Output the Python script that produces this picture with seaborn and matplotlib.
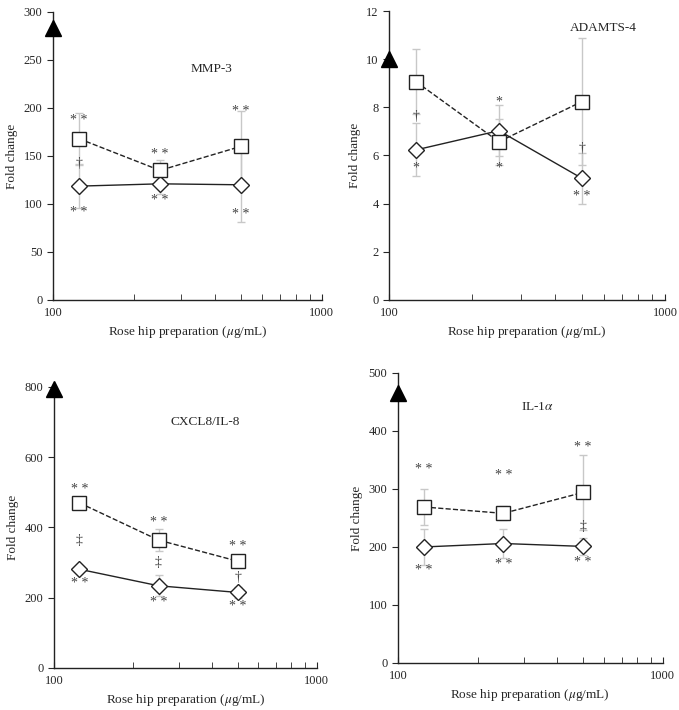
import numpy as np
import matplotlib
matplotlib.use("Agg")
import matplotlib.pyplot as plt
from matplotlib.ticker import NullFormatter, LogLocator
import seaborn as sns

sns.set_style("ticks")
plt.rcParams['font.family'] = ['Liberation Serif', 'DejaVu Serif']
plt.rcParams['mathtext.fontset'] = 'stix'

dose = [125, 250, 500]

# MMP-3
mmp_sq = [168, 135, 160]
mmp_sq_err = [27, 11, 37]
mmp_di = [118.6, 121, 120]
mmp_di_err = [23, 11, 39]
mmp_ctrl = 283

# ADAMTS-4
adam_sq = [9.07, 6.57, 8.24]
adam_sq_err = [1.35, 0.95, 2.65]
adam_di = [6.23, 7.03, 5.05]
adam_di_err = [1.1, 1.05, 1.05]
adam_ctrl = 10.0

# CXCL8/IL-8
cx_sq = [470, 364, 304]
cx_sq_err = [10, 32, 18]
cx_di = [281, 234, 215]
cx_di_err = [10, 30, 15]
cx_ctrl = 795

# IL-1a
il_sq = [269, 258, 294]
il_sq_err = [31, 12, 64]
il_di = [200, 206, 201]
il_di_err = [31, 25, 15]
il_ctrl = 465

# significance marks: (x, y, text)
mmp_marks = [(125, 187, '* *'), (125, 142, '†'), (125, 91, '* *'),
             (250, 152, '* *'), (250, 104, '* *'),
             (500, 196, '* *'), (500, 89, '* *')]
adam_marks = [(125, 7.6, '†'), (125, 5.47, '*'),
              (250, 8.24, '*'), (250, 5.47, '*'),
              (500, 6.27, '†'), (500, 4.29, '* *')]
cx_marks = [(125, 508, '* *'), (125, 363, '‡'), (125, 241, '* *'),
            (250, 414, '* *'), (250, 301, '‡'), (250, 185, '* *'),
            (500, 347, '* *'), (500, 258, '†'), (500, 175, '* *')]
il_marks = [(125, 334, '* *'), (125, 159, '* *'),
            (250, 323, '* *'), (250, 170, '* *'),
            (500, 372, '* *'), (500, 235, '‡'), (500, 173, '* *')]

panels = [
    dict(pos=[0.078, 0.5775, 0.396, 0.4056], sq=mmp_sq, sqe=mmp_sq_err, di=mmp_di, die=mmp_di_err,
         ctrl=mmp_ctrl, marks=mmp_marks, ymax=300, ystep=50, title='MMP-3', tpos=(388, 241)),
    dict(pos=[0.573, 0.5775, 0.4065, 0.407], sq=adam_sq, sqe=adam_sq_err, di=adam_di, die=adam_di_err,
         ctrl=adam_ctrl, marks=adam_marks, ymax=12, ystep=2, title='ADAMTS-4', tpos=(597, 11.28)),
    dict(pos=[0.0795, 0.0592, 0.387, 0.3958], sq=cx_sq, sqe=cx_sq_err, di=cx_di, die=cx_di_err,
         ctrl=cx_ctrl, marks=cx_marks, ymax=800, ystep=200, title='CXCL8/IL-8', tpos=(377, 700)),
    dict(pos=[0.586, 0.0662, 0.390, 0.4085], sq=il_sq, sqe=il_sq_err, di=il_di, die=il_di_err,
         ctrl=il_ctrl, marks=il_marks, ymax=500, ystep=100, title=r'IL-1$\alpha$', tpos=(335, 442)),
]

fig = plt.figure(figsize=(6.79, 7.10), dpi=100)
grey = '#c8c8c8'

for p in panels:
    ax = fig.add_axes(p['pos'])
    ax.errorbar(dose, p['sq'], yerr=p['sqe'], fmt='none', ecolor=grey, elinewidth=1, capsize=3, zorder=1)
    ax.errorbar(dose, p['di'], yerr=p['die'], fmt='none', ecolor=grey, elinewidth=1, capsize=3, zorder=1)
    sns.lineplot(x=dose, y=p['di'], ax=ax, color='#222222', linewidth=1, marker='D', markersize=8,
                 markerfacecolor='white', markeredgecolor='#222222', markeredgewidth=1, zorder=3)
    sns.lineplot(x=dose, y=p['sq'], ax=ax, color='#222222', linewidth=1, linestyle='--', marker='s',
                 markersize=9.5, markerfacecolor='white', markeredgecolor='#222222', markeredgewidth=1, zorder=3)
    ax.plot([100], [p['ctrl']], marker='^', markersize=12, color='black', clip_on=False, zorder=5)
    for x, y, t in p['marks']:
        ax.text(x, y, t, ha='center', va='center', fontsize=10, color='#444444')
    ax.text(p['tpos'][0], p['tpos'][1], p['title'], ha='center', va='center', fontsize=9.5)

    ax.set_xscale('log')
    ax.set_xlim(100, 1000)
    ax.set_ylim(0, p['ymax'])
    ax.set_xticks([100, 1000])
    ax.set_xticklabels(['100', '1000'])
    ax.xaxis.set_minor_locator(LogLocator(base=10, subs=np.arange(2, 10)))
    ax.xaxis.set_minor_formatter(NullFormatter())
    ax.set_yticks(np.arange(0, p['ymax'] + p['ystep'] / 2, p['ystep']))
    ax.tick_params(axis='x', which='both', direction='in', length=4, labelsize=9, pad=5)
    ax.tick_params(axis='y', direction='out', length=4, labelsize=9)
    ax.set_xlabel(r'Rose hip preparation ($\mu$g/mL)', fontsize=9.5)
    ax.set_ylabel('Fold change', fontsize=9.5)
    sns.despine(ax=ax)
    for s in ['left', 'bottom']:
        ax.spines[s].set_color('#222222')
        ax.spines[s].set_linewidth(1)

fig.savefig('out.png', dpi=100)
